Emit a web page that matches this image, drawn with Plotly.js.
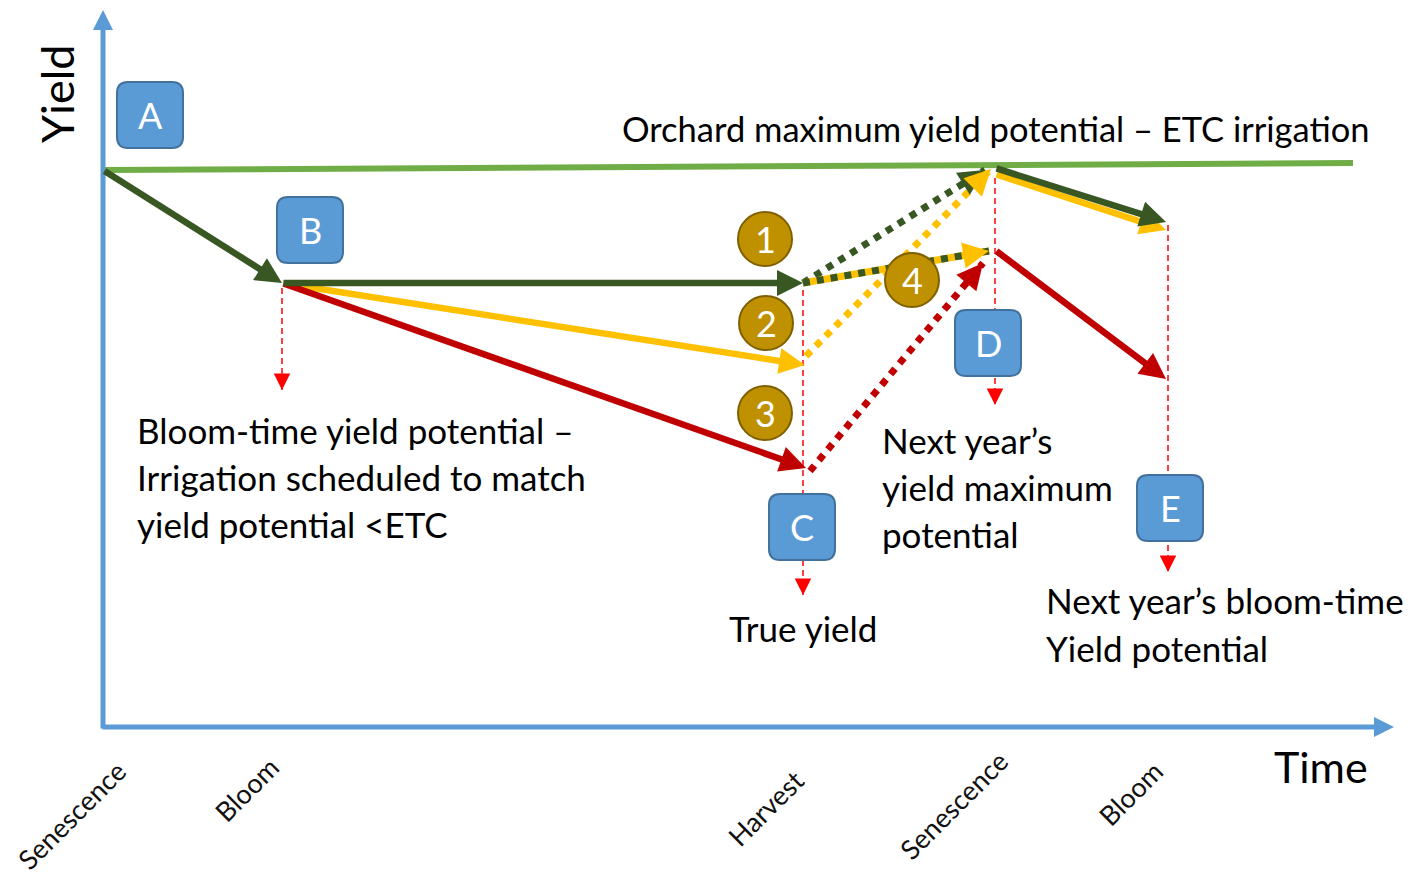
<!DOCTYPE html>
<html><head><meta charset="utf-8">
<script src="https://cdn.plot.ly/plotly-3.0.1.min.js"></script>
<style>html,body{margin:0;padding:0;background:#fff;}#chart{width:1411px;height:877px;}</style>
</head><body><div id="chart"></div>
<script>
// ---------------- data (time along x, yield along y) ----------------
const stageNames = ['Senescence', 'Bloom', 'Harvest', 'Senescence', 'Bloom'];
const stageTime  = [103, 282, 803, 995, 1168];

const maxLineTime  = [103, 1353];
const maxLineYield = [557, 564];

const greenTime  = [103, 282, 803];
const greenYield = [557, 444, 444];
const yellowTime  = [282, 805];
const yellowYield = [444, 362];
const redTime  = [282, 806];
const redYield = [444, 259];

const rec1Time = [803, 985];  const rec1Yield = [444, 557];   // 1: green dotted
const rec2Time = [806, 991];  const rec2Yield = [371, 558];   // 2: yellow dotted
const rec3Time = [810, 983];  const rec3Yield = [256, 464];   // 3: red dotted
const rec4Time = [803, 989];  const rec4Yield = [444, 476];   // 4: green/yellow dotted

const nextGreenTime  = [995, 1166]; const nextGreenYield  = [559, 505];
const nextYellowTime = [995, 1166]; const nextYellowYield = [553, 497];
const nextRedTime    = [995, 1166]; const nextRedYield    = [477, 348];

const dropTime   = [282, 803, 995, 1168];
const dropTop    = [439, 437, 549, 502];
const dropBottom = [337, 132, 322, 155];

const boxLabels    = ['A', 'B', 'C', 'D', 'E'];
const circleLabels = ['1', '2', '3', '4'];

const textTitleTop = 'Orchard maximum yield potential – ETC irrigation';
const textBloom = ['Bloom-time yield potential –', 'Irrigation scheduled to match', 'yield potential <ETC'];
const textNextMax = ['Next year’s', 'yield maximum', 'potential'];
const textTrue = 'True yield';
const textNextBloom = ['Next year’s bloom-time', 'Yield potential'];

// ---------------- styling / layout ----------------
const BASE = 727;                     // pixel row of the time axis
const Y = py => BASE - py;            // layout helper: pixel row -> yield units
const FONT = 'Lato, "Open Sans", sans-serif';
const C = {light:'#70AD47', dark:'#385723', yellow:'#FFC000', red:'#C00000', blue:'#5B9BD5',
           blueEdge:'#41719C', gold:'#BF9000', goldEdge:'#7F6000', drop:'#FF0000'};

const traces = [];
traces.push({x:maxLineTime, y:maxLineYield, mode:'lines', line:{color:C.light, width:6}, hoverinfo:'skip'});
dropTime.forEach((t,i)=>traces.push({x:[t,t], y:[dropTop[i], dropBottom[i]], mode:'lines',
  line:{color:C.drop, width:1.5, dash:'6px,4px'}, hoverinfo:'skip'}));
traces.push({x:rec1Time, y:rec1Yield, mode:'lines', line:{color:C.dark, width:7, dash:'dot'}, hoverinfo:'skip'});
traces.push({x:rec2Time, y:rec2Yield, mode:'lines', line:{color:C.yellow, width:7, dash:'dot'}, hoverinfo:'skip'});
traces.push({x:rec3Time, y:rec3Yield, mode:'lines', line:{color:C.red, width:7, dash:'dot'}, hoverinfo:'skip'});
traces.push({x:rec4Time, y:rec4Yield, mode:'lines', line:{color:C.yellow, width:7}, hoverinfo:'skip'});
traces.push({x:rec4Time, y:rec4Yield, mode:'lines', line:{color:C.dark, width:7, dash:'dot'}, hoverinfo:'skip'});

const ann = [];
function arrow(xs, ys, i, color, width, size){
  ann.push({x:xs[i+1], y:ys[i+1], ax:xs[i], ay:ys[i], xref:'x', yref:'y', axref:'x', ayref:'y',
    showarrow:true, arrowhead:2, arrowsize:size, arrowwidth:width, arrowcolor:color, text:'', standoff:0});
}
function head(xs, ys, color, width, size, len){
  const n = xs.length;
  const dx = xs[n-1]-xs[n-2], dy = -(ys[n-1]-ys[n-2]);
  const L = Math.hypot(dx, dy);
  ann.push({x:xs[n-1], y:ys[n-1], xref:'x', yref:'y', ax:-dx/L*len, ay:-dy/L*len,
    showarrow:true, arrowhead:2, arrowsize:size, arrowwidth:width, arrowcolor:color, text:'', standoff:0});
}
// axes
ann.push({x:stageTime[0], y:Y(10), ax:stageTime[0], ay:Y(730), xref:'x', yref:'y', axref:'x', ayref:'y',
  showarrow:true, arrowhead:2, arrowsize:0.8, arrowwidth:5, arrowcolor:C.blue, text:'', standoff:0});
ann.push({x:1394, y:0, ax:101, ay:0, xref:'x', yref:'y', axref:'x', ayref:'y',
  showarrow:true, arrowhead:2, arrowsize:0.8, arrowwidth:5, arrowcolor:C.blue, text:'', standoff:0});
// solid arrows
const AW = 6.5, AS = 0.8;
arrow(yellowTime, yellowYield, 0, C.yellow, AW, AS);
arrow(redTime, redYield, 0, C.red, AW, AS);
arrow(greenTime, greenYield, 0, C.dark, AW, AS);
arrow(greenTime, greenYield, 1, C.dark, AW, AS);
arrow(nextYellowTime, nextYellowYield, 0, C.yellow, AW, AS);
arrow(nextGreenTime, nextGreenYield, 0, C.dark, AW, AS);
arrow(nextRedTime, nextRedYield, 0, C.red, AW, AS);
// dotted arrow heads
head(rec1Time, rec1Yield, C.dark, AW, AS, 24);
head(rec2Time, rec2Yield, C.yellow, AW, AS, 24);
head(rec3Time, rec3Yield, C.red, AW, AS, 24);
head(rec4Time, rec4Yield, C.yellow, AW, AS, 24);
// drop-line heads
dropTime.forEach((t,i)=>ann.push({x:t, y:dropBottom[i], xref:'x', yref:'y', ax:0, ay:-16,
  showarrow:true, arrowhead:2, arrowsize:2.2, arrowwidth:1.5, arrowcolor:C.drop, text:'', standoff:0}));

// boxes and circles
const shapes = [];
const boxCenters = [[150,115],[310,230],[802,527],[988,343],[1170,508]];
function roundRect(cx, cy, w, h, r){
  const x0=cx-w/2, x1=cx+w/2, y0=cy-h/2, y1=cy+h/2;
  return `M${x0+r},${y1} L${x1-r},${y1} Q${x1},${y1} ${x1},${y1-r} L${x1},${y0+r} Q${x1},${y0} ${x1-r},${y0} `+
         `L${x0+r},${y0} Q${x0},${y0} ${x0},${y0+r} L${x0},${y1-r} Q${x0},${y1} ${x0+r},${y1} Z`;
}
boxLabels.forEach((lab,i)=>{
  const [px,py] = boxCenters[i];
  shapes.push({type:'path', xref:'x', yref:'y', layer:'above', path:roundRect(px, Y(py), 66, 66, 11),
    fillcolor:C.blue, line:{color:C.blueEdge, width:2}});
  ann.push({x:px, y:Y(py), xref:'x', yref:'y', text:lab, showarrow:false, font:{family:FONT, size:36, color:'#fff'}});
});
const circleCenters = [[765,239],[766,323],[765,413],[912,280]];
circleLabels.forEach((lab,i)=>{
  const [px,py] = circleCenters[i];
  shapes.push({type:'circle', xref:'x', yref:'y', layer:'above', x0:px-27, x1:px+27, y0:Y(py)-27, y1:Y(py)+27,
    fillcolor:C.gold, line:{color:C.goldEdge, width:2}});
  ann.push({x:px, y:Y(py), xref:'x', yref:'y', text:lab, showarrow:false, font:{family:FONT, size:36, color:'#fff'}});
});

// texts
const body = {family:FONT, size:35, color:'#000'};
function txt(s, x, py, anchor, size){ ann.push({x:x, y:Y(py), xref:'x', yref:'y', text:s, showarrow:false,
  xanchor:anchor||'left', yanchor:'middle', font:Object.assign({}, body, size ? {size:size} : {})}); }
txt(textTitleTop, 620, 128, 'left', 34.5);
textBloom.forEach((s,i)=>txt(s, 135, 430 + i*47));
textNextMax.forEach((s,i)=>txt(s, 880, 440 + i*47));
txt(textTrue, 803, 628, 'center');
textNextBloom.forEach((s,i)=>txt(s, 1044, 600 + i*48));

ann.push({x:57, y:Y(94), xref:'x', yref:'y', text:'Yield', textangle:-90, showarrow:false,
  font:{family:FONT, size:45, color:'#000'}});
ann.push({x:1321, y:Y(766), xref:'x', yref:'y', text:'Time', showarrow:false,
  font:{family:FONT, size:43, color:'#000'}});

// rotated stage labels under the time axis
const labelDx = [-32, -36, -38, -42, -38];
const labelPy = [815, 789, 808, 805, 793];
stageNames.forEach((s,i)=>ann.push({x:stageTime[i]+labelDx[i], y:Y(labelPy[i]), xref:'x', yref:'y', text:s,
  textangle:-45, showarrow:false, xanchor:'center', yanchor:'middle', font:{family:FONT, size:27, color:'#111'}}));

const layout = {
  width:1411, height:877, margin:{l:0, r:0, t:0, b:0},
  paper_bgcolor:'#fff', plot_bgcolor:'#fff', showlegend:false,
  xaxis:{range:[0,1411], visible:false, fixedrange:true},
  yaxis:{range:[BASE-877, BASE], visible:false, fixedrange:true},
  shapes:shapes, annotations:ann
};
Plotly.newPlot('chart', traces, layout, {staticPlot:true, displayModeBar:false});
</script></body></html>
